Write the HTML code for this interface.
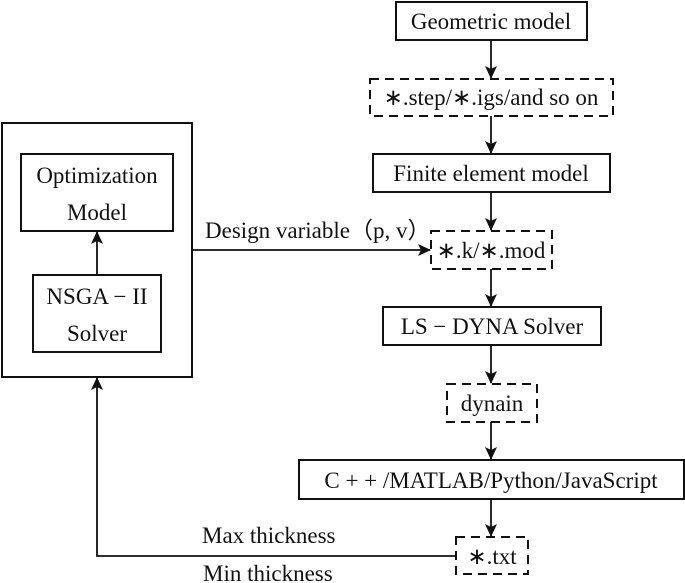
<!DOCTYPE html>
<html><head><meta charset="utf-8"><style>
html,body{margin:0;padding:0;background:#fff;width:685px;height:583px;overflow:hidden}
text{font-family:"Liberation Serif",serif;font-size:23px;fill:#111}
</style></head><body>
<svg width="685" height="583" viewBox="0 0 685 583" xmlns="http://www.w3.org/2000/svg">
<defs><marker id="a" markerWidth="13" markerHeight="12" refX="12" refY="6" orient="auto" markerUnits="userSpaceOnUse"><path d="M0,0 L13,6 L0,12 L3,6 Z" fill="#111"/></marker></defs>
<g fill="none" stroke="#111" stroke-width="2">
<rect x="396" y="2" width="191" height="38"/>
<rect x="370" y="79" width="243" height="37" stroke-dasharray="9,6"/>
<rect x="373" y="154" width="237" height="38"/>
<rect x="431" y="231" width="121" height="38" stroke-dasharray="9,6"/>
<rect x="383" y="307" width="218" height="38"/>
<rect x="447" y="384" width="90" height="38" stroke-dasharray="9,6"/>
<rect x="299" y="460" width="385" height="39"/>
<rect x="456" y="537" width="72" height="37" stroke-dasharray="9,6"/>
<rect x="2" y="123" width="190" height="254"/>
<rect x="21" y="154" width="152" height="77"/>
<rect x="33" y="275" width="128" height="77"/>
<g stroke-width="1.8">
<line x1="491" y1="40" x2="491" y2="78" marker-end="url(#a)"/>
<line x1="491" y1="116" x2="491" y2="153" marker-end="url(#a)"/>
<line x1="491" y1="192" x2="491" y2="230" marker-end="url(#a)"/>
<line x1="491" y1="269" x2="491" y2="306" marker-end="url(#a)"/>
<line x1="491" y1="345" x2="491" y2="383" marker-end="url(#a)"/>
<line x1="491" y1="422" x2="491" y2="459" marker-end="url(#a)"/>
<line x1="491" y1="499" x2="491" y2="536" marker-end="url(#a)"/>
<line x1="97" y1="275" x2="97" y2="232" marker-end="url(#a)"/>
<line x1="192" y1="250" x2="430" y2="250" marker-end="url(#a)"/>
<polyline points="456,556 97,556 97,378" marker-end="url(#a)"/>
</g>
</g>
<g text-anchor="middle">
<text x="491" y="29">Geometric model</text>
<text x="491" y="105">∗.step/∗.igs/and so on</text>
<text x="491" y="181">Finite element model</text>
<text x="491" y="258">∗.k/∗.mod</text>
<text x="492" y="334">LS − DYNA Solver</text>
<text x="492" y="411">dynain</text>
<text x="491" y="488">C + + /MATLAB/Python/JavaScript</text>
<text x="492" y="564">∗.txt</text>
<text x="97" y="183">Optimization</text>
<text x="97" y="220">Model</text>
<text x="97" y="304">NSGA − II</text>
<text x="97" y="341">Solver</text>
</g>
<text x="205" y="238">Design variable（p, v）</text>
<text x="202" y="543">Max thickness</text>
<text x="203" y="581">Min thickness</text>
</svg>
</body></html>
